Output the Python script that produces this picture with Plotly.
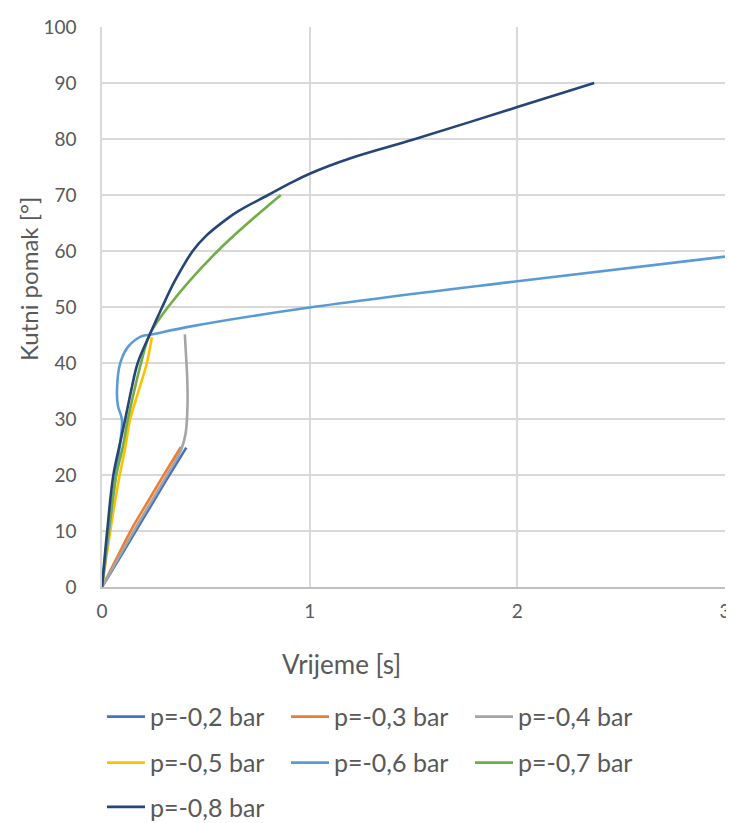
import plotly.graph_objects as go

# ---- data (time [s], angular displacement [deg]) ----
t_02 = [0, 0.1, 0.2, 0.3, 0.406]
y_02 = [0, 6.1, 12.3, 18.5, 24.9]

t_03 = [0, 0.07, 0.142, 0.22, 0.294, 0.38]
y_03 = [0, 5.1, 10.3, 15.2, 19.8, 25.0]

t_04 = [0, 0.158, 0.31, 0.382, 0.403, 0.412, 0.41, 0.403, 0.399]
y_04 = [0, 10.3, 19.8, 24.6, 27.5, 32.9, 37.6, 42.4, 45.1]

t_05 = [0, 0.04, 0.08, 0.11, 0.136, 0.176, 0.216, 0.24]
y_05 = [0, 10.0, 19.0, 24.5, 30.0, 35.0, 40.0, 44.6]

t_06 = [0, 0.03, 0.06, 0.085, 0.096, 0.077, 0.072, 0.088, 0.128, 0.192, 0.24, 0.422, 1.0, 2.0, 3.0]
y_06 = [0, 9.0, 18.0, 25.0, 29.9, 32.3, 35.0, 40.0, 43.0, 44.8, 45.1, 46.5, 49.9, 54.6, 59.0]

t_07 = [0, 0.03, 0.068, 0.1, 0.125, 0.155, 0.188, 0.23, 0.318, 0.557, 0.861]
y_07 = [0, 10.0, 19.8, 25.0, 30.0, 35.0, 40.0, 45.1, 50.0, 60.0, 70.0]

t_08 = [0, 0.025, 0.054, 0.09, 0.112, 0.14, 0.172, 0.23, 0.29, 0.35, 0.437, 0.501, 0.597, 0.66,
        0.8, 0.916, 1.0, 1.2, 1.5, 2.0, 2.37]
y_08 = [0, 10.0, 19.8, 26.2, 30.0, 35.0, 40.0, 45.1, 50.0, 54.6, 60.0, 62.7, 65.6, 67.2,
        70.0, 72.3, 73.8, 76.6, 79.9, 85.7, 90.0]

names = ["p=-0,2 bar", "p=-0,3 bar", "p=-0,4 bar", "p=-0,5 bar",
         "p=-0,6 bar", "p=-0,7 bar", "p=-0,8 bar"]
colors = ["#4472C4", "#ED7D31", "#A5A5A5", "#FFC000", "#5B9BD5", "#70AD47", "#264478"]
series = [(t_02, y_02), (t_03, y_03), (t_04, y_04), (t_05, y_05),
          (t_06, y_06), (t_07, y_07), (t_08, y_08)]
legend_ids = ["legend", "legend", "legend", "legend2", "legend2", "legend2", "legend3"]

x_ticks = [0, 1, 2, 3]
y_ticks = [0, 10, 20, 30, 40, 50, 60, 70, 80, 90, 100]
x_title = "Vrijeme [s]"
y_title = "Kutni pomak [°]"

FONT = "Lato"
TXT = "#595959"
GRID = "#D9D9D9"

fig = go.Figure()
for (t, y), n, c, lg in zip(series, names, colors, legend_ids):
    fig.add_trace(go.Scatter(x=t, y=y, name=n, mode="lines",
                             line=dict(color=c, width=2.6, shape="spline", smoothing=1.0),
                             legend=lg))

leg_common = dict(orientation="h", xanchor="left", yanchor="middle",
                  font=dict(family=FONT, size=25, color=TXT),
                  entrywidth=131, entrywidthmode="pixels",
                  bgcolor="rgba(0,0,0,0)", itemwidth=38)

fig.update_layout(
    width=726, height=815,
    paper_bgcolor="white", plot_bgcolor="white",
    margin=dict(l=94, r=9, t=19, b=236, autoexpand=False),
    font=dict(family=FONT, color=TXT),
    showlegend=True,
    legend=dict(x=0.0, y=-0.232, **leg_common),
    legend2=dict(x=0.0, y=-0.314, **leg_common),
    legend3=dict(x=0.0, y=-0.393, **leg_common),
    xaxis=dict(range=[0, 3], tickvals=x_ticks, showgrid=True, gridcolor=GRID, gridwidth=1.5,
               zeroline=False, showline=True, linecolor="#BFBFBF", linewidth=1.5,
               ticks="outside", ticklen=6, tickcolor="rgba(0,0,0,0)", automargin=False,
               ticklabeloverflow="allow",
               tickfont=dict(family=FONT, size=19, color=TXT)),
    yaxis=dict(range=[0, 100], tickvals=y_ticks, showgrid=True, gridcolor=GRID, gridwidth=1.5,
               zeroline=False, showline=True, linecolor=GRID, linewidth=1.5,
               ticks="outside", ticklen=20, tickcolor="rgba(0,0,0,0)", automargin=False,
               ticklabeloverflow="allow",
               tickfont=dict(family=FONT, size=19, color=TXT)),
    annotations=[
        dict(text=x_title, xref="paper", yref="paper", x=0.385, y=-0.1375,
             xanchor="center", yanchor="middle", showarrow=False,
             font=dict(family=FONT, size=26, color=TXT)),
        dict(text=y_title, xref="paper", yref="paper", x=-0.1188, y=0.55,
             xanchor="center", yanchor="middle", showarrow=False, textangle=-90,
             font=dict(family=FONT, size=24, color=TXT)),
    ],
)

fig.write_html("out.html")
